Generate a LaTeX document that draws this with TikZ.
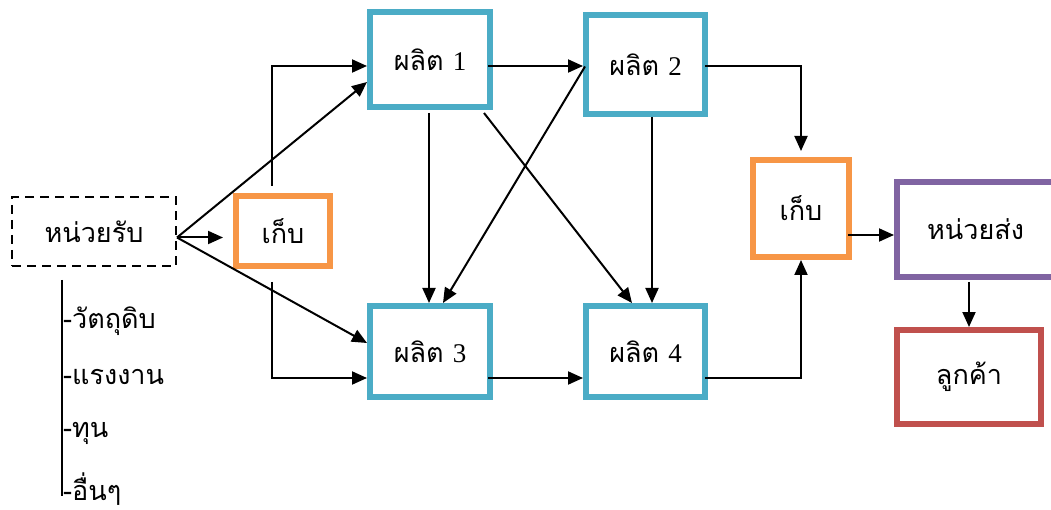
\documentclass[tikz,border=0pt]{standalone}
\usepackage{fontspec}
\setmainfont{Liberation Serif}
\newfontfamily\thai[Script=Thai]{Loma}
\usetikzlibrary{arrows.meta,calc}

\definecolor{ProdColor}{RGB}{75,172,198}
\definecolor{StoreColor}{RGB}{247,150,70}
\definecolor{SendColor}{RGB}{128,100,162}
\definecolor{CustColor}{RGB}{192,80,77}

\tikzset{
	unit/.style={draw, line width=6pt, fill=white, inner sep=0pt,
		font=\thai\fontsize{27}{32}\selectfont},
	prod/.style={unit, draw=ProdColor, minimum width=120pt},
	store/.style={unit, draw=StoreColor},
	flow/.style={line width=2pt, -{Triangle[length=15pt,width=13pt]}},
	link/.style={line width=2pt},
	res/.style={anchor=west, inner sep=0pt, font=\thai\fontsize{27}{32}\selectfont},
}

\begin{document}
\begin{tikzpicture}[x=1pt,y=-1pt]

	\useasboundingbox (0,0) rectangle (1051,510);

	% Units

	\node [unit, draw=black, line width=2pt, dash pattern=on 9pt off 6pt,
		minimum width=164pt, minimum height=69pt] (recv) at (94,231.5) {หน่วยรับ};
	\node [store, minimum width=94pt, minimum height=70pt] (store1) at (283,231) {เก็บ};

	\node [prod, minimum height=95pt] (prod1) at (430,59.5) {ผลิต \textrm{1}};
	\node [prod, minimum width=119pt, minimum height=99pt] (prod2) at (645.5,64.5) {ผลิต \textrm{2}};
	\node [prod, minimum height=91pt] (prod3) at (430,351.5) {ผลิต \textrm{3}};
	\node [prod, minimum width=119pt, minimum height=91pt] (prod4) at (645.5,351.5) {ผลิต \textrm{4}};

	\node [store, minimum width=96pt, minimum height=97pt] (store2) at (801,208.5) {เก็บ};
	\node [unit, draw=SendColor, minimum width=157pt, minimum height=95pt] (send) at (975.5,229.5) {หน่วยส่ง};
	\node [unit, draw=CustColor, minimum width=144pt, minimum height=94pt] (cust) at (969,377) {ลูกค้า};

	% Resources

	\draw [link] ($(recv.south west)+(51,13)$) -- ++(0,216);
	\foreach \txt [count=\i] in {วัตถุดิบ, แรงงาน, ทุน, อื่นๆ}
		\node [res] (res\i) at (63,265+56*\i) {-\txt};

	% Flows

	\coordinate (hub) at ($(recv.east)+(0,6)$);
	\draw [flow, shorten >=10pt] (hub) -- (hub -| store1.west);
	\draw [flow] (hub) -- ($(prod1.west)+(0,22.5)$);
	\draw [flow] (hub) -- ($(prod3.west)+(0,-8.5)$);

	\draw [flow] ($(store1.north)+(-11,-7)$) |- ($(prod1.west)+(0,6.5)$);
	\draw [flow] ($(store1.south)+(-11,13)$) |- ($(prod3.west)+(0,26.5)$);

	\coordinate (p12) at ($(prod1.east)+(-5,6.5)$);
	\draw [flow] (p12) -- (p12 -| prod2.west);
	\coordinate (p34) at ($(prod3.east)+(-5,26.5)$);
	\draw [flow] (p34) -- (p34 -| prod4.west);

	\draw [flow] ($(prod1.south)+(-1,3)$) -- ($(prod3.north)+(-1,0)$);
	\draw [flow] ($(prod1.south east)+(-9,3)$) -- ($(prod4.north)+(-13.5,0)$);
	\draw [flow] ($(prod2.west)+(2,2)$) -- ($(prod3.north)+(13,0)$);
	\draw [flow] ($(prod2.south)+(6.5,0)$) -- ($(prod4.north)+(6.5,0)$);

	\draw [flow, shorten >=6pt] ($(prod2.east)+(-3,1.5)$) -| (store2.north);
	\draw [flow] ($(prod4.east)+(-3,26.5)$) -| (store2.south);

	\coordinate (s2) at ($(store2.east)+(-4,26.5)$);
	\draw [flow] (s2) -- (s2 -| send.west);
	\draw [flow] ($(send.south)+(-6.5,2)$) -- (cust.north);

\end{tikzpicture}
\end{document}
